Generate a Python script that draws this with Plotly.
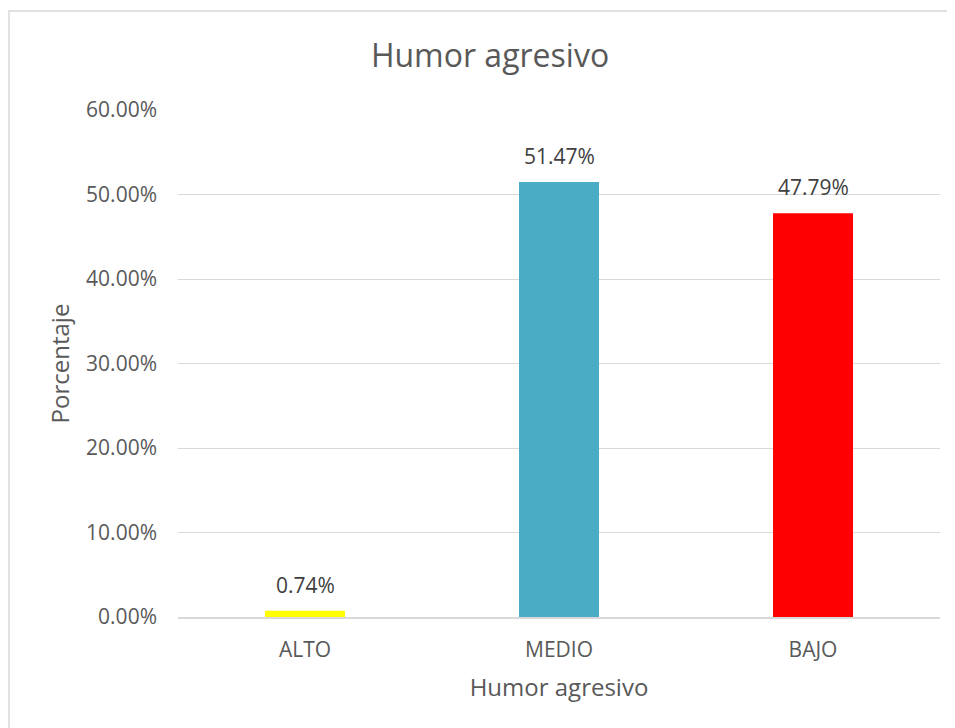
import plotly.graph_objects as go

categories = ["ALTO", "MEDIO", "BAJO"]
values = [0.74, 51.47, 47.79]
colors = ["#FFFF00", "#4BACC6", "#FF0000"]
y_ticks = [0, 10, 20, 30, 40, 50, 60]
y_tick_labels = ["0.00%", "10.00%", "20.00%", "30.00%", "40.00%", "50.00%", "60.00%"]

# page has an 8px body margin; figure coords = page coords - 8
OFF = 8
W, H = 947, 720
L, T = 178 - OFF, 110 - OFF
R = W - (940 - OFF)
B = H - (617 - OFF)
pw, ph = W - L - R, H - T - B

def px_to_paper_x(px):
    return (px - OFF - L) / pw

def px_to_paper_y(py):
    return (H - B - (py - OFF)) / ph

font_family = "Open Sans, Liberation Sans, sans-serif"
txt = "#595959"

fig = go.Figure(go.Bar(
    x=categories, y=values, marker_color=colors, marker_line_width=0,
    hoverinfo="skip",
))

for c, v in zip(categories, values):
    fig.add_annotation(x=c, y=v, text=f"{v:.2f}%", showarrow=False,
                       yanchor="bottom", yshift=10,
                       font=dict(family=font_family, size=21, color="#404040"))

fig.add_shape(type="rect", xref="paper", yref="paper",
              x0=px_to_paper_x(9), x1=px_to_paper_x(975),
              y0=px_to_paper_y(745), y1=px_to_paper_y(11),
              line=dict(color="#D9D9D9", width=1.5), layer="below")

fig.update_layout(
    width=W, height=H,
    margin=dict(l=L, r=R, t=T, b=B),
    paper_bgcolor="white", plot_bgcolor="white",
    bargap=0.685,
    showlegend=False,
    title=dict(text="Humor agresivo", x=(490 - OFF) / W, xanchor="center", xref="container",
               y=1 - (56 - OFF) / H, yanchor="middle", yref="container",
               font=dict(family=font_family, size=32, color=txt)),
    font=dict(family=font_family, color=txt),
)
fig.update_xaxes(
    showline=True, linecolor="#D9D9D9", linewidth=1.5,
    showgrid=False, ticks="", tickfont=dict(size=21, color=txt),
    ticklabelstandoff=13,
    title=dict(text="Humor agresivo", font=dict(size=24, color=txt), standoff=17),
)
fig.update_yaxes(
    range=[0, 60], tickvals=y_ticks, ticktext=y_tick_labels,
    showgrid=True, gridcolor="#D9D9D9", gridwidth=1, zeroline=False,
    showline=False, ticks="", tickfont=dict(size=21, color=txt),
    ticklabelstandoff=20,
    title=dict(text="Porcentaje", font=dict(size=24, color=txt), standoff=9),
)

fig.write_html("out.html")
